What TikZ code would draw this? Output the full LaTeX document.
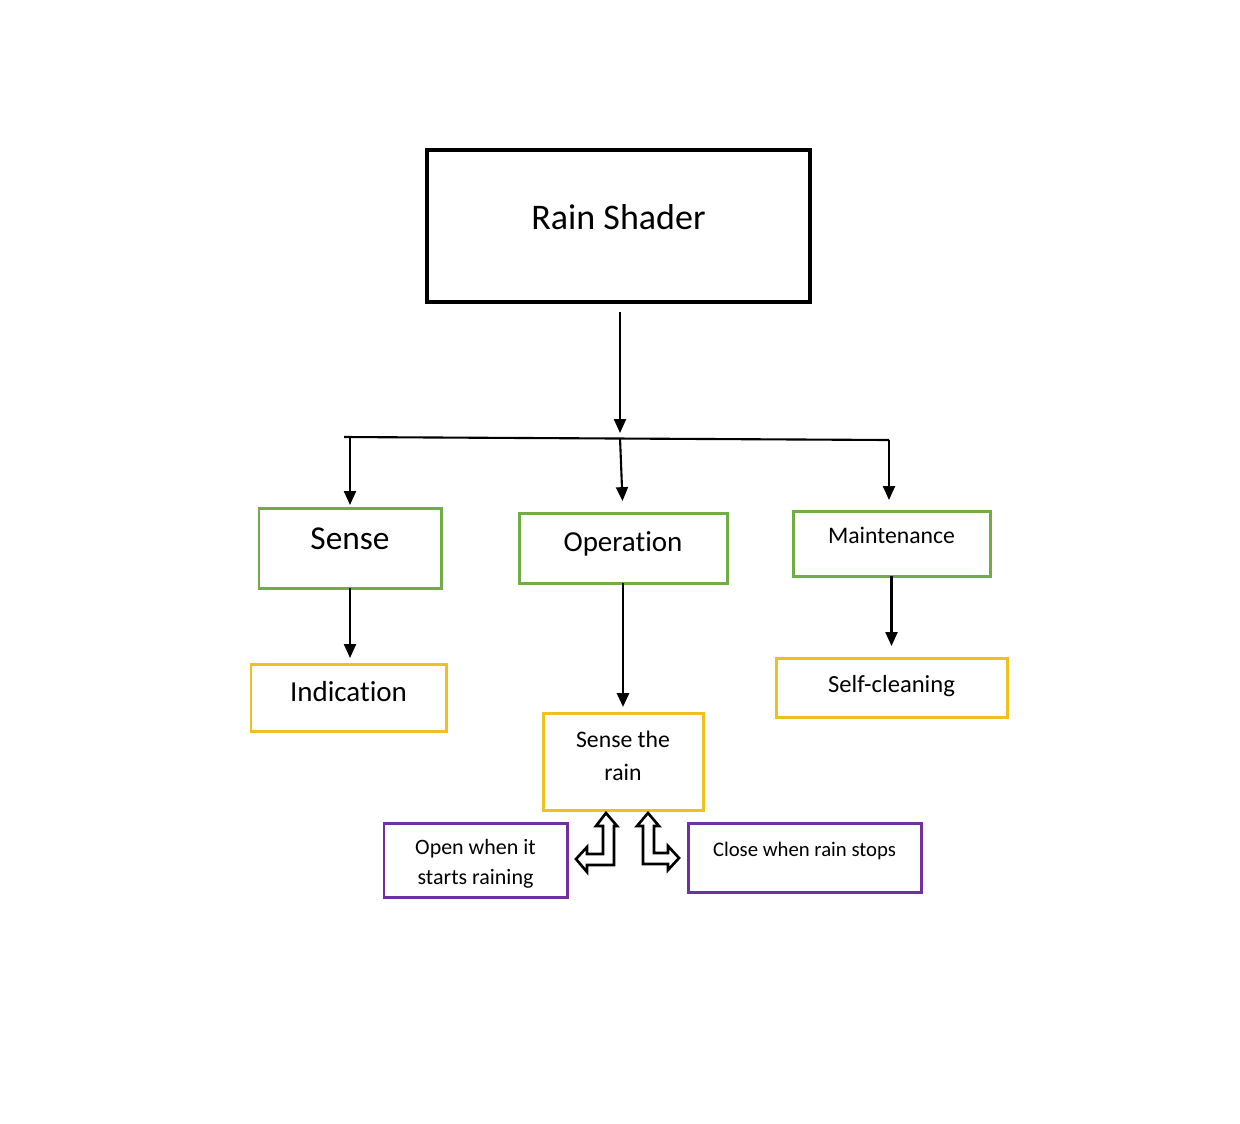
\documentclass[tikz,border=0pt]{standalone}
\usepackage{fontspec}
\setmainfont{Carlito}[Ligatures=NoCommon]
\usepackage{tikz}
\usetikzlibrary{arrows.meta}
\definecolor{boxgreen}{HTML}{70AD47}
\definecolor{boxyellow}{HTML}{F0C020}
\definecolor{boxpurple}{HTML}{7030A0}
\newlength\pu
\setlength\pu{0.02cm}
\newcommand\fs[2]{\fontsize{#1}{#2}\selectfont}

\begin{document}
\begin{tikzpicture}[x=0.02cm, y=-0.02cm,
  box/.style={draw, line width=1.7pt, inner sep=0pt, outer sep=0pt},
  blackbox/.style={box, draw=black, line width=2pt},
  greenbox/.style={box, draw=boxgreen},
  yellowbox/.style={box, draw=boxyellow},
  purplebox/.style={box, draw=boxpurple},
  txt/.style={text depth=0pt, align=center, inner sep=0pt},
  ln/.style={line width=1.2pt},
  arr/.style={ln, -{Triangle[width=6.8pt,length=7.9pt]}},
  bent/.style={draw, fill=white, line width=1.5pt, line join=miter}]
\useasboundingbox (0,0) rectangle (1240,1123);

% boxes
\node[blackbox, minimum width=383\pu, minimum height=152\pu,
  label={[txt, font=\fs{20.5}{25}, yshift=9.5\pu]center:Rain Shader}] (shader) at (618.5,226) {};
\node[greenbox, minimum width=182\pu, minimum height=80\pu,
  label={[txt, font=\fs{19}{23}, yshift=9\pu]center:Sense}] (sense) at (350,548) {};
\node[greenbox, minimum width=208\pu, minimum height=70\pu,
  label={[txt, font=\fs{16.5}{20}, yshift=6.5\pu]center:Operation}] (oper) at (623,548) {};
\node[greenbox, minimum width=197\pu, minimum height=65\pu,
  label={[txt, font=\fs{13.5}{17}, yshift=8\pu]center:Maintenance}] (maint) at (891.5,543.5) {};
\node[yellowbox, minimum width=195\pu, minimum height=67\pu,
  label={[txt, font=\fs{16.5}{20}, yshift=6\pu]center:Indication}] (indic) at (348.5,697.5) {};
\node[yellowbox, minimum width=231\pu, minimum height=59\pu,
  label={[txt, font=\fs{14}{17}, yshift=4\pu]center:Self-cleaning}] (clean) at (891.5,687.5) {};
\node[yellowbox, minimum width=160\pu, minimum height=97\pu,
  label={[txt, font=\fs{13.5}{18.7}, yshift=6\pu]center:Sense the\\rain}] (rainsense) at (623,761.5) {};
\node[purplebox, minimum width=183\pu, minimum height=74\pu,
  label={[txt, font=\fs{12.5}{17}, yshift=-2\pu]center:Open when it\\starts raining}] (openbox) at (475.5,860) {};
\node[purplebox, minimum width=233\pu, minimum height=69\pu,
  label={[txt, font=\fs{11.8}{15}, yshift=8.5\pu]center:Close when rain stops}] (closebox) at (804.5,857.5) {};

% branching
\coordinate (hub) at (620,438);
\coordinate (hl) at (344,437);
\coordinate (hr) at (889,440);

\draw[arr, shorten <=10\pu, shorten >=5\pu] (shader.south -| hub) -- (hub);
\draw[ln] (hl) -- (hr);
\draw[arr, shorten >=3\pu] (sense.north |- hl) -- (sense.north);
\draw[arr, shorten >=12\pu] (hub) -- (oper.north);
\draw[arr, shorten >=11\pu] (hr) -- (maint.north -| hr);
\draw[arr, shorten >=6\pu] (sense.south) -- (sense.south |- indic.north);
\draw[arr, line width=1.5pt, shorten >=6\pu] (oper.south) -- (rainsense.north);
\draw[arr, shorten >=12\pu] (maint.south) -- (maint.south |- clean.north);

% bent arrows
\draw[bent] (606,813) -- (617,826) -- (614,826) -- (614,865) -- (587,865) -- (587,872)
  -- (576,859) -- (587,847) -- (587,854) -- (603,854) -- (603,826) -- (596,826) -- cycle;
\draw[bent] (648,813) -- (659,826) -- (654,826) -- (654,853) -- (668,853) -- (668,846)
  -- (679,858) -- (668,870) -- (668,864) -- (643,864) -- (643,826) -- (637,826) -- cycle;
\end{tikzpicture}
\end{document}
